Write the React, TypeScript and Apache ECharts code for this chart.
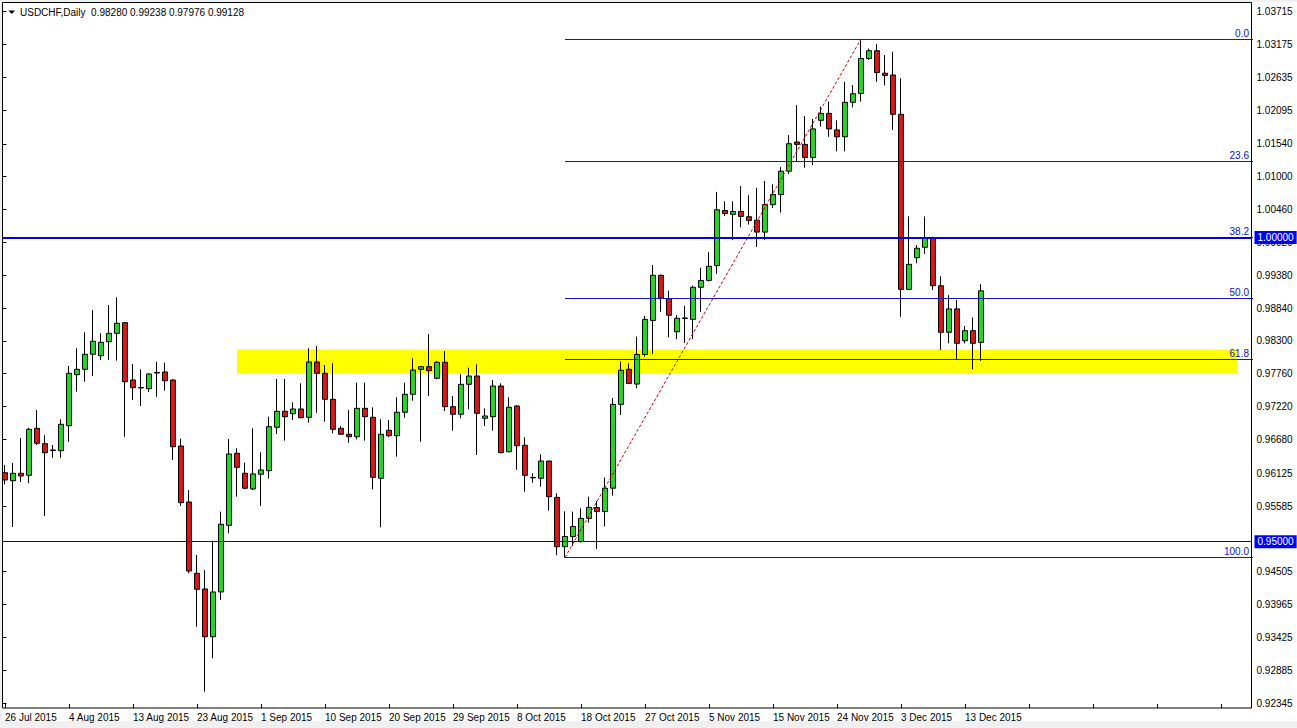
import React, { useEffect, useRef } from "react";
import * as echarts from "echarts";

const FONT = "'Liberation Sans', Arial, sans-serif";

// USDCHF daily bars (Sunday..Friday sessions), 26 Jul 2015 .. 15 Dec 2015
const opens = [
  0.96136, 0.96004, 0.96126, 0.96093, 0.96866, 0.96613, 0.9651, 0.96498, 0.96909, 0.97748,
  0.97837, 0.98084, 0.98061, 0.98291, 0.98429, 0.98604, 0.97661, 0.97537, 0.97518, 0.97786,
  0.97793, 0.97661, 0.96575, 0.95654, 0.94481, 0.94223, 0.93438, 0.94174, 0.95271, 0.96455,
  0.96126, 0.95868, 0.9611, 0.96169, 0.96883, 0.97146, 0.97107, 0.97184, 0.97047, 0.97957,
  0.97771, 0.97343, 0.96866, 0.96768, 0.96728, 0.97195, 0.97047, 0.96044, 0.96834, 0.96745,
  0.9713, 0.97426, 0.97837, 0.9788, 0.97689, 0.97952, 0.97222, 0.97097, 0.9759, 0.97727,
  0.97031, 0.97057, 0.97562, 0.96481, 0.97233, 0.96587, 0.96057, 0.96044, 0.96328, 0.9573,
  0.94919, 0.95085, 0.95003, 0.95384, 0.95564, 0.95496, 0.95881, 0.9726, 0.97837, 0.97594,
  0.98081, 0.98641, 0.99383, 0.98998, 0.98455, 0.98681, 0.98658, 0.99186, 0.99299, 0.99543,
  1.00449, 1.00387, 1.00433, 1.00347, 1.00291, 1.00094, 1.00546, 1.00712, 1.01096, 1.01576,
  1.01537, 1.01321, 1.01933, 1.02047, 1.01775, 1.01662, 1.02229, 1.02374, 1.0295, 1.03078,
  1.02708, 1.02678, 1.02032, 0.99152, 0.99673, 0.99844, 0.99992, 0.99212, 0.98446, 0.98831,
  0.98307, 0.98472, 0.9828,
];
const closes = [
  0.96016, 0.96126, 0.96082, 0.9685, 0.9662, 0.96465, 0.965, 0.96932, 0.97771, 0.97837,
  0.98084, 0.98298, 0.98281, 0.98429, 0.98594, 0.97633, 0.97534, 0.97531, 0.9776, 0.97776,
  0.97649, 0.96564, 0.95643, 0.94519, 0.94218, 0.93438, 0.94174, 0.95287, 0.96444, 0.96225,
  0.9588, 0.96115, 0.96181, 0.96893, 0.97146, 0.97057, 0.97184, 0.97041, 0.97957, 0.97771,
  0.97343, 0.9685, 0.96768, 0.96728, 0.97195, 0.97057, 0.9606, 0.96768, 0.96745, 0.9713,
  0.97426, 0.97825, 0.9788, 0.97814, 0.97952, 0.97222, 0.97097, 0.9759, 0.97727, 0.97113,
  0.97069, 0.97562, 0.96465, 0.97212, 0.9658, 0.96093, 0.96051, 0.96328, 0.95741, 0.94919,
  0.95087, 0.95251, 0.95384, 0.95564, 0.95496, 0.95881, 0.9726, 0.97821, 0.97605, 0.98081,
  0.98658, 0.99383, 0.9901, 0.98727, 0.98676, 0.98674, 0.99186, 0.99299, 0.99531, 1.00461,
  1.00398, 1.00433, 1.00352, 1.00285, 1.00094, 1.00546, 1.00712, 1.01096, 1.01548, 1.01537,
  1.01321, 1.01792, 1.02047, 1.01792, 1.01662, 1.02229, 1.02371, 1.0295, 1.03078, 1.02719,
  1.02672, 1.02032, 0.99152, 0.99564, 0.99828, 0.99992, 0.99212, 0.98446, 0.98831, 0.98265,
  0.98472, 0.98265, 0.99128,
];
const lows = [
  0.95945, 0.95243, 0.95983, 0.95962, 0.96592, 0.95424, 0.96383, 0.96383, 0.96646, 0.97469,
  0.97633, 0.97727, 0.9799, 0.9799, 0.97979, 0.96728, 0.97332, 0.97233, 0.97464, 0.97386,
  0.97485, 0.96345, 0.95588, 0.94481, 0.93603, 0.92534, 0.93083, 0.94042, 0.95139, 0.95741,
  0.95863, 0.95851, 0.95588, 0.96037, 0.96773, 0.96663, 0.97003, 0.97031, 0.96959, 0.97123,
  0.96975, 0.96784, 0.96756, 0.9663, 0.96685, 0.96663, 0.95863, 0.95238, 0.96718, 0.96399,
  0.97041, 0.9732, 0.96646, 0.97398, 0.97672, 0.97149, 0.96827, 0.97031, 0.97179, 0.96427,
  0.96904, 0.96827, 0.96455, 0.96475, 0.96181, 0.95823, 0.95972, 0.95906, 0.95511, 0.94777,
  0.9474, 0.9493, 0.94985, 0.95314, 0.94881, 0.95251, 0.95758, 0.97084, 0.97594, 0.97524,
  0.98046, 0.98092, 0.98783, 0.98363, 0.98333, 0.98271, 0.98333, 0.98783, 0.99281, 0.99407,
  1.00359, 0.99962, 1.00171, 1.00217, 0.99849, 0.99962, 1.00489, 1.00415, 1.0105, 1.01245,
  1.01152, 1.01197, 1.01831, 1.01662, 1.01423, 1.01423, 1.02144, 1.02241, 1.02925, 1.02568,
  1.02506, 1.01774, 0.98702, 0.99141, 0.99581, 0.99734, 0.99141, 0.98154, 0.98265, 0.9799,
  0.98265, 0.97837, 0.97976,
];
const highs = [
  0.96263, 0.96296, 0.96707, 0.96876, 0.97168, 0.96751, 0.96592, 0.97015, 0.97891, 0.98183,
  0.98446, 0.98813, 0.98429, 0.98895, 0.99021, 0.98615, 0.97924, 0.97837, 0.97771, 0.97963,
  0.97946, 0.97672, 0.96695, 0.95851, 0.94782, 0.94536, 0.95017, 0.95495, 0.9669, 0.96537,
  0.96301, 0.96866, 0.96472, 0.97057, 0.97677, 0.97677, 0.97294, 0.97607, 0.98183, 0.9822,
  0.97908, 0.97936, 0.96904, 0.97168, 0.97617, 0.97617, 0.97212, 0.97015, 0.97003, 0.97376,
  0.97617, 0.98018, 0.97886, 0.98418, 0.97974, 0.98138, 0.97398, 0.97755, 0.97863, 0.97919,
  0.97195, 0.97661, 0.97607, 0.97376, 0.9725, 0.96718, 0.96126, 0.96439, 0.96328, 0.95797,
  0.95501, 0.95496, 0.9555, 0.95741, 0.9567, 0.96057, 0.97365, 0.97967, 0.97934, 0.98375,
  0.98716, 0.99554, 0.99395, 0.99131, 0.98727, 0.98883, 0.99214, 0.99508, 0.99763, 1.00755,
  1.00602, 1.00602, 1.00852, 1.00699, 1.00823, 1.00936, 1.00881, 1.01163, 1.0169, 1.02183,
  1.02002, 1.01956, 1.0216, 1.02241, 1.01933, 1.02568, 1.02512, 1.0327, 1.03114, 1.03185,
  1.03007, 1.03062, 1.02624, 1.00353, 0.99882, 1.0035, 1.00019, 0.99367, 0.99057, 0.98977,
  0.98549, 0.9869, 0.99238,
];

// Right price scale labels (as printed by the terminal)
const priceTicks = [
  1.03715, 1.03175, 1.02635, 1.02095, 1.0154, 1.01, 1.0046, 0.9992, 0.9938, 0.9884, 0.983,
  0.9776, 0.9722, 0.9668, 0.96125, 0.95585, 0.94505, 0.93965, 0.93425, 0.92885, 0.92345,
];

// Annotations
const fibLevels = [0, 23.6, 38.2, 50, 61.8, 100];
const fibLowIndex = 70;
const fibHighIndex = 107;
const zoneLow = 0.97763;
const zoneHigh = 0.98163;
const zoneStartIndex = 29;
const zoneEndIndex = 154;
const horizontalLevels = [1.0, 0.95];

const Y_MIN = 0.92265;
const Y_MAX = 1.03863;
const PAD_BARS = 34;

const MONTHS = ["Jan", "Feb", "Mar", "Apr", "May", "Jun", "Jul", "Aug", "Sep", "Oct", "Nov", "Dec"];

function sessionDates(n: number): string[] {
  const out: string[] = [];
  const d = new Date(Date.UTC(2015, 6, 26));
  while (out.length < n) {
    if (d.getUTCDay() !== 6) {
      out.push(`${d.getUTCDate()} ${MONTHS[d.getUTCMonth()]} ${d.getUTCFullYear()}`);
    }
    d.setUTCDate(d.getUTCDate() + 1);
  }
  return out;
}

export default function App() {
  const ref = useRef<HTMLDivElement>(null);

  useEffect(() => {
    if (!ref.current) return;
    const chart = echarts.init(ref.current, undefined, { renderer: "svg" });

    const n = opens.length;
    const dates = sessionDates(n);
    const categories = dates.concat(Array.from({ length: PAD_BARS }, (_, k) => `pad${k}`));
    const candleData = opens.map((o, i) => [o, closes[i], lows[i], highs[i]]);

    const fibHigh = highs[fibHighIndex];
    const fibLow = lows[fibLowIndex];
    const lastIdx = categories.length - 1;
    const fibColor = "#1414c8";

    const fibLines = fibLevels.map((lvl) => {
      const p = fibHigh - ((fibHigh - fibLow) * lvl) / 100;
      return [
        {
          coord: [fibLowIndex, p],
          lineStyle: { color: fibColor, width: 1, type: "solid" },
          label: {
            show: true,
            position: "insideEndTop",
            formatter: lvl.toFixed(1),
            color: "#1010c0",
            fontSize: 10,
            fontFamily: FONT,
            distance: [4, 1],
          },
        },
        { coord: [lastIdx, p] },
      ];
    });

    const diagonal = [
      {
        coord: [fibLowIndex, fibLow],
        lineStyle: { color: "#d00000", width: 1, type: [3, 2] },
        label: { show: false },
      },
      { coord: [fibHighIndex, fibHigh] },
    ];

    const boxLabel = (text: string, bg: string) => ({
      show: true,
      position: "end",
      formatter: text,
      backgroundColor: bg,
      color: "#ffffff",
      padding: [2, 3, 1, 3],
      distance: 3,
      fontSize: 10,
      fontFamily: FONT,
    });

    const last = n - 1;
    const header = `USDCHF,Daily  ${opens[last].toFixed(5)} ${highs[last].toFixed(5)} ${lows[last].toFixed(5)} ${closes[last].toFixed(5)}`;

    const option: any = {
      animation: false,
      backgroundColor: "#ffffff",
      textStyle: { fontFamily: FONT },
      grid: [
        { left: 1, top: 3, width: 8 * categories.length, height: 705, show: false },
        {
          left: 2.5,
          top: 2.5,
          width: 1249,
          height: 705.5,
          show: true,
          borderColor: "#000000",
          borderWidth: 1,
          backgroundColor: "transparent",
        },
      ],
      xAxis: [
        {
          type: "category",
          gridIndex: 0,
          data: categories,
          boundaryGap: true,
          axisLine: { show: false },
          axisTick: {
            show: true,
            inside: true,
            length: 4,
            alignWithLabel: true,
            interval: 7,
            lineStyle: { color: "#000000" },
          },
          axisLabel: {
            interval: 7,
            align: "left",
            margin: 4,
            fontSize: 10,
            color: "#000000",
            fontFamily: FONT,
            formatter: (v: string, i: number) => (i < n ? v : ""),
          },
          splitLine: { show: false },
        },
        { type: "value", gridIndex: 1, min: 0, max: 1, show: false },
      ],
      yAxis: [
        { type: "value", gridIndex: 0, min: Y_MIN, max: Y_MAX, show: false },
        {
          type: "value",
          gridIndex: 1,
          position: "right",
          min: Y_MIN,
          max: Y_MAX,
          axisLine: { show: false },
          axisTick: {
            show: true,
            length: 4,
            customValues: priceTicks,
            lineStyle: { color: "#000000" },
          },
          axisLabel: {
            customValues: priceTicks,
            formatter: (v: number) => v.toFixed(5),
            margin: 5,
            fontSize: 10,
            color: "#000000",
            fontFamily: FONT,
          },
          splitLine: { show: false },
        },
      ],
      series: [
        {
          type: "candlestick",
          name: "USDCHF",
          xAxisIndex: 0,
          yAxisIndex: 0,
          data: candleData,
          barWidth: 5,
          z: 2,
          itemStyle: {
            color: "#22d622",
            color0: "#d41818",
            borderColor: "#000000",
            borderColor0: "#000000",
            borderWidth: 1,
          },
          markArea: {
            silent: true,
            itemStyle: { color: "#ffff00", opacity: 1 },
            label: { show: false },
            data: [[{ xAxis: zoneStartIndex, yAxis: zoneHigh }, { xAxis: zoneEndIndex, yAxis: zoneLow }]],
          },
          markLine: {
            silent: true,
            symbol: ["none", "none"],
            emphasis: { disabled: true },
            data: [...fibLines, diagonal],
          },
        },
        {
          type: "line",
          xAxisIndex: 1,
          yAxisIndex: 1,
          data: [[0.5, horizontalLevels[0]]],
          symbol: "none",
          lineStyle: { opacity: 0 },
          silent: true,
          z: 6,
          markLine: {
            silent: true,
            symbol: ["none", "none"],
            emphasis: { disabled: true },
            data: [
              {
                yAxis: horizontalLevels[0],
                lineStyle: { color: "#0000e0", width: 2, type: "solid" },
                label: boxLabel(horizontalLevels[0].toFixed(5), "#0000ff"),
              },
              {
                yAxis: horizontalLevels[1],
                lineStyle: { color: "#0000e0", width: 1, type: "solid" },
                label: boxLabel(horizontalLevels[1].toFixed(5), "#0000ff"),
              },
              {
                yAxis: closes[last],
                lineStyle: { opacity: 0, width: 0 },
                label: boxLabel(closes[last].toFixed(5), "#000000"),
              },
            ],
          },
        },
      ],
      graphic: [
        { type: "rect", silent: true, shape: { x: 0, y: 0, width: 1297, height: 2 }, style: { fill: "#f0f0f0" } },
        { type: "rect", silent: true, shape: { x: 0, y: 721, width: 1297, height: 7 }, style: { fill: "#f0f0f0" } },
        { type: "rect", silent: true, shape: { x: 0, y: 0, width: 2, height: 728 }, style: { fill: "#f0f0f0" } },
        {
          type: "polygon",
          silent: true,
          shape: { points: [[8.5, 10.5], [15, 10.5], [11.75, 14]] },
          style: { fill: "#000000" },
        },
        {
          type: "text",
          silent: true,
          x: 20,
          y: 12.5,
          style: {
            text: header,
            fill: "#000000",
            fontSize: 10,
            fontFamily: FONT,
            verticalAlign: "middle",
          },
        },
      ],
    };

    chart.setOption(option);
    return () => chart.dispose();
  }, []);

  return (
    <div
      ref={ref}
      style={{ position: "fixed", left: 0, top: 0, width: 1297, height: 728, background: "#ffffff" }}
    />
  );
}
